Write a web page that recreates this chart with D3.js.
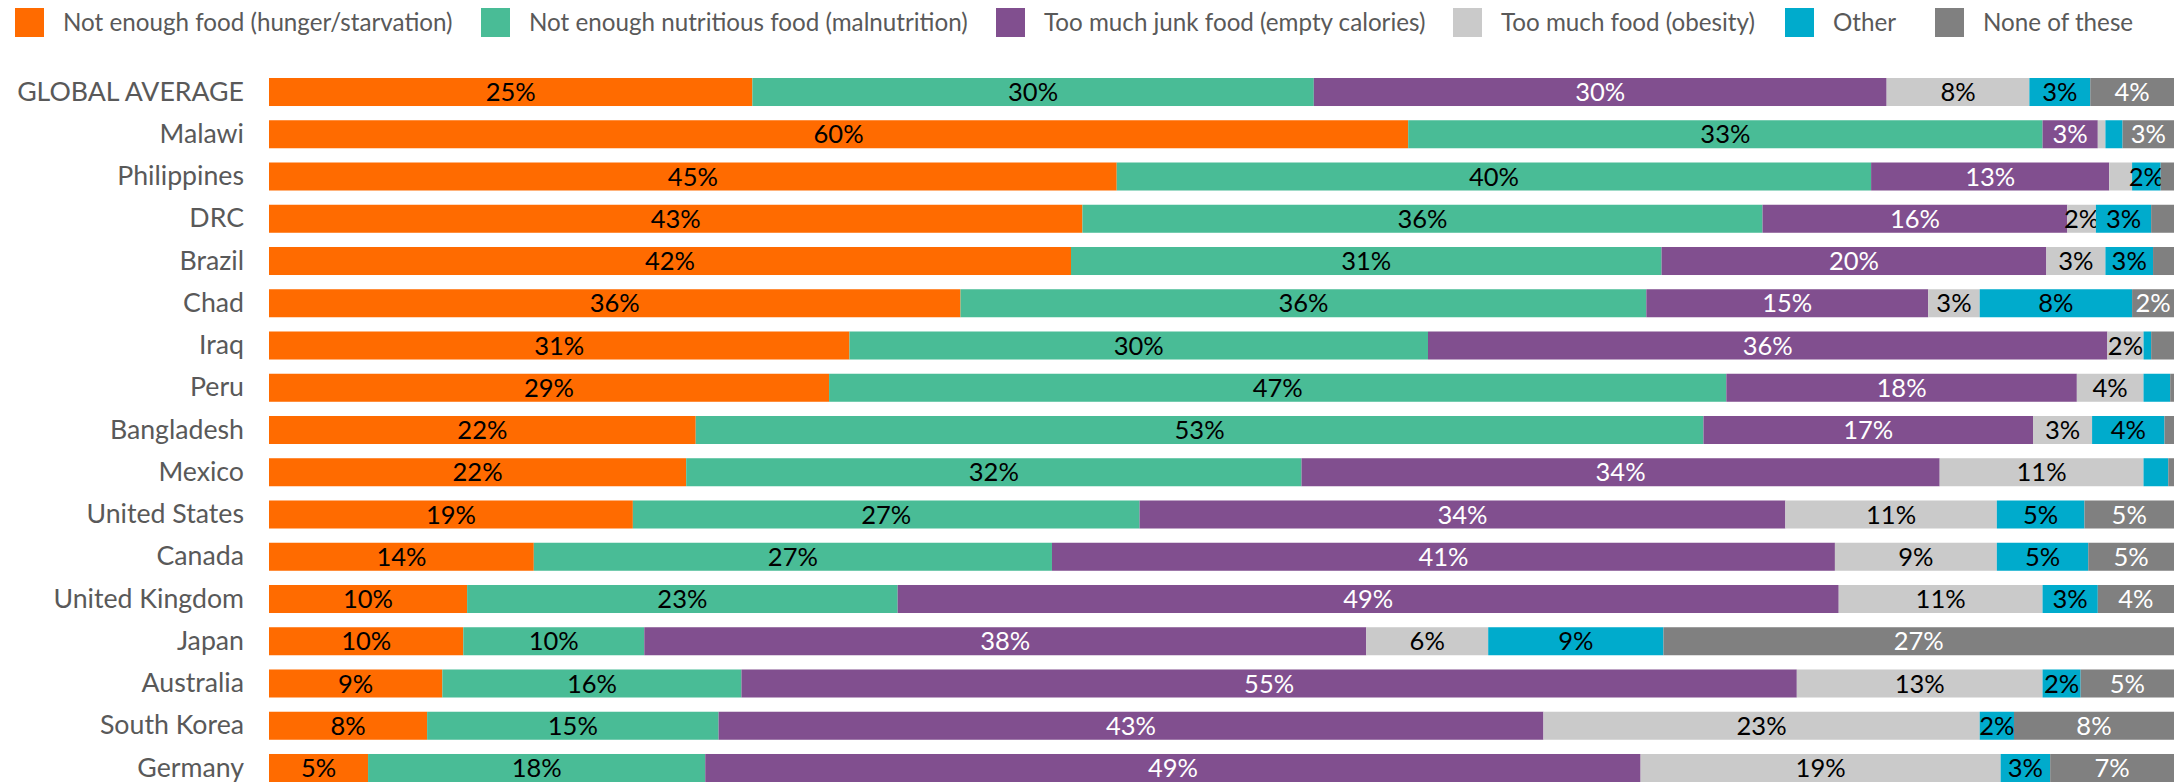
<!DOCTYPE html>
<html>
<head>
<meta charset="utf-8">
<script src="https://cdn.jsdelivr.net/npm/d3@7"></script>
<style>
  body { margin: 0; background: #fff; }
  svg { display: block; font-family: Lato, "Open Sans", sans-serif; }
</style>
</head>
<body>
<svg id="chart" width="2179" height="783"></svg>
<script>
const categories = ["GLOBAL AVERAGE","Malawi","Philippines","DRC","Brazil","Chad","Iraq","Peru","Bangladesh","Mexico","United States","Canada","United Kingdom","Japan","Australia","South Korea","Germany"];
const seriesNames = ["Not enough food (hunger/starvation)","Not enough nutritious food (malnutrition)","Too much junk food (empty calories)","Too much food (obesity)","Other","None of these"];
const hunger       = [25.4,59.8,44.5,42.7,42.1,36.3,30.5,29.4,22.4,21.9,19.1,13.9,10.4,10.2, 9.1, 8.3, 5.2];
const malnutrition = [29.5,33.3,39.6,35.7,31.0,36.0,30.4,47.1,52.9,32.3,26.6,27.2,22.6, 9.5,15.7,15.3,17.7];
const junkFood     = [30.1, 2.9,12.5,16.0,20.2,14.8,35.7,18.4,17.3,33.5,33.9,41.1,49.4,37.9,55.4,43.3,49.1];
const obesity      = [ 7.5, 0.4, 1.2, 1.5, 3.1, 2.7, 1.9, 3.5, 3.1,10.7,11.1, 8.5,10.7, 6.4,12.9,22.9,18.9];
const other        = [ 3.2, 0.9, 1.5, 2.9, 2.5, 8.0, 0.4, 1.4, 3.8, 1.3, 4.6, 4.8, 2.9, 9.2, 2.0, 1.8, 2.6];
const noneOfThese  = [ 4.4, 2.7, 0.7, 1.2, 1.1, 2.2, 1.2, 0.2, 0.5, 0.3, 4.7, 4.5, 4.0,26.8, 4.9, 8.4, 6.5];
const colors = ["#FF6B00","#49BC96","#814F8F","#CACACA","#00ABCC","#808080"];
const labelColors = ["#000","#000","#fff","#000","#000","#fff"];
const legendX = [15, 481, 996, 1453, 1785, 1935];

const seriesValues = [hunger, malnutrition, junkFood, obesity, other, noneOfThese];
const keys = seriesNames;
const rows = categories.map((c, i) => {
  const r = {category: c};
  keys.forEach((k, j) => r[k] = seriesValues[j][i]);
  return r;
});

const stack = d3.stack().keys(keys).offset(d3.stackOffsetExpand);
const stacked = stack(rows);

const svg = d3.select("#chart");
const x = d3.scaleLinear().domain([0, 1]).range([269, 2174]);
const y = d3.scaleBand().domain(categories).range([78, 782]).paddingInner(0.337).paddingOuter(0);
const color = d3.scaleOrdinal().domain(keys).range(colors);
const labelColor = d3.scaleOrdinal().domain(keys).range(labelColors);

// bars
const groups = svg.append("g").selectAll("g").data(stacked).join("g")
  .attr("fill", d => color(d.key));
groups.selectAll("rect").data(d => d.map(p => ({p, key: d.key}))).join("rect")
  .attr("x", d => x(d.p[0]))
  .attr("y", d => y(d.p.data.category))
  .attr("width", d => x(d.p[1]) - x(d.p[0]))
  .attr("height", y.bandwidth());

// value labels
groups.selectAll("text").data(d => d.map(p => ({p, key: d.key, v: p.data[d.key]})).filter(d => Math.round(d.v) >= 2))
  .join("text")
  .attr("x", d => (x(d.p[0]) + x(d.p[1])) / 2)
  .attr("y", d => y(d.p.data.category) + y.bandwidth() / 2)
  .attr("dy", "0.36em")
  .attr("text-anchor", "middle")
  .attr("font-size", 25.5)
  .attr("fill", d => labelColor(d.key))
  .text(d => Math.round(d.v) + "%");

// category axis
const axis = svg.append("g").attr("transform", `translate(${x(0)},0)`)
  .call(d3.axisLeft(y).tickSize(0).tickPadding(25));
axis.select(".domain").remove();
axis.selectAll("text").attr("font-size", 26.7).attr("fill", "#595959").attr("font-family", "Lato");

// legend
const legend = svg.append("g");
keys.forEach((k, i) => {
  const g = legend.append("g").attr("transform", `translate(${legendX[i]},8)`);
  g.append("rect").attr("width", 29).attr("height", 29).attr("fill", color(k));
  g.append("text").attr("x", 48).attr("y", 14.5).attr("dy", "0.36em")
    .attr("font-size", 24.2).attr("fill", "#595959").text(k);
});
</script>
</body>
</html>
